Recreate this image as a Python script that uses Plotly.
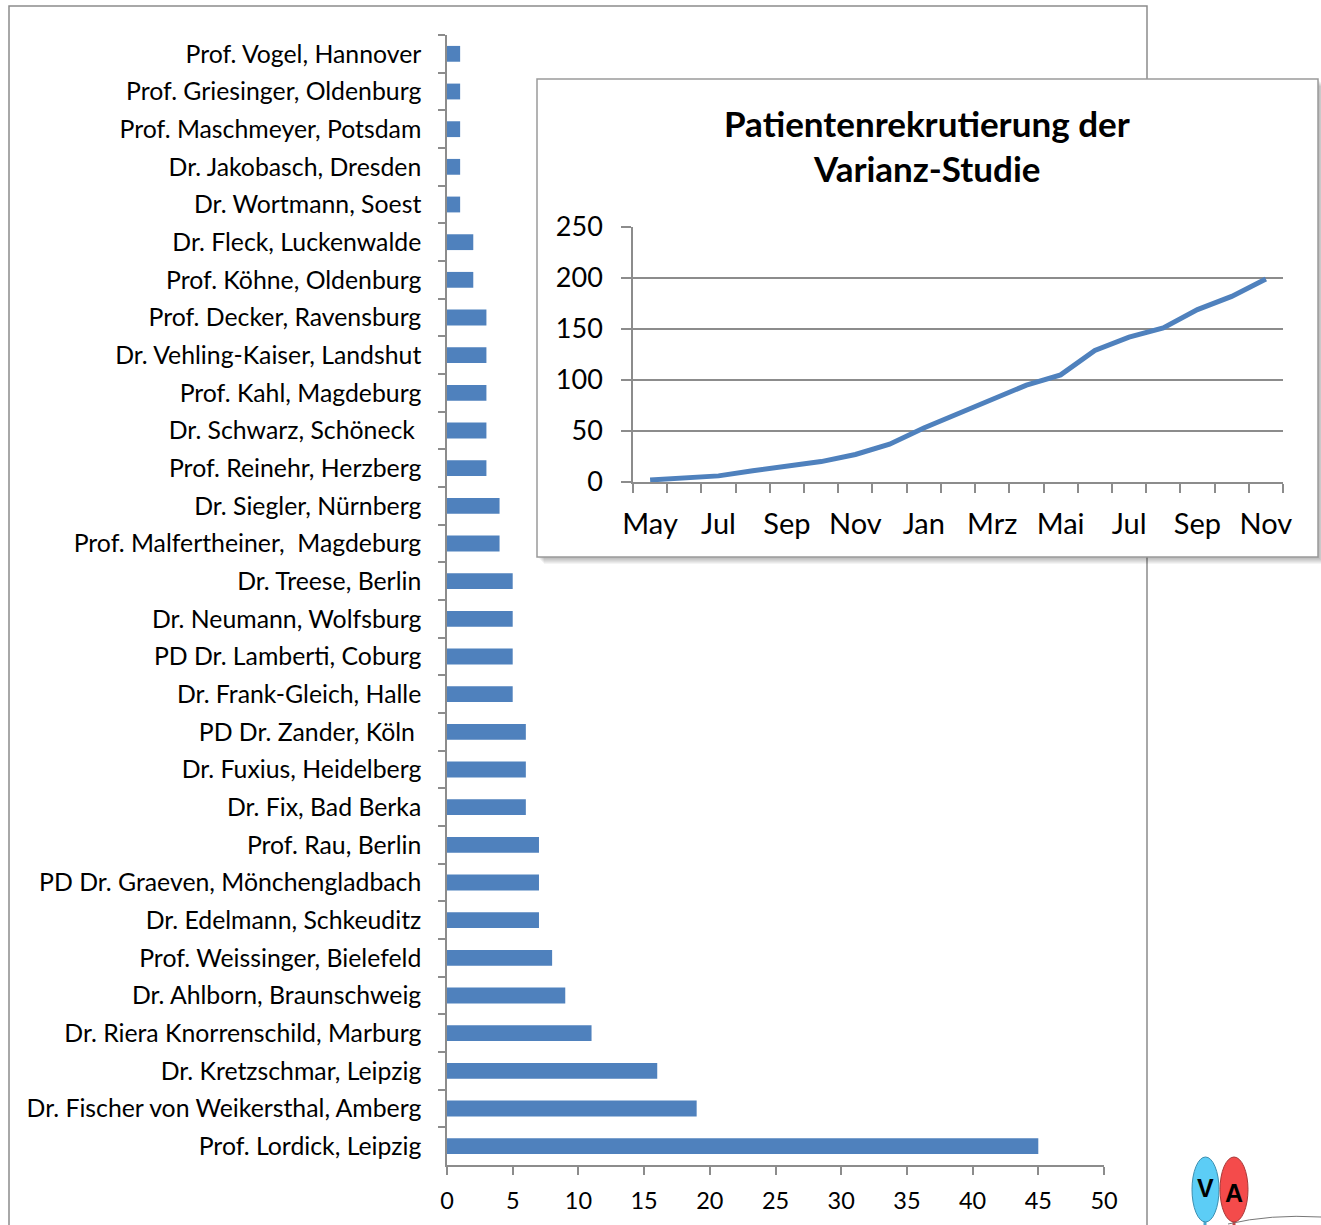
import plotly.graph_objects as go

W, H = 1321, 1225

# ---------------- data ----------------
centers = [
    "Prof. Vogel, Hannover",
    "Prof. Griesinger, Oldenburg",
    "Prof. Maschmeyer, Potsdam",
    "Dr. Jakobasch, Dresden",
    "Dr. Wortmann, Soest",
    "Dr. Fleck, Luckenwalde",
    "Prof. Köhne, Oldenburg",
    "Prof. Decker, Ravensburg",
    "Dr. Vehling-Kaiser, Landshut",
    "Prof. Kahl, Magdeburg",
    "Dr. Schwarz, Schöneck ",
    "Prof. Reinehr, Herzberg",
    "Dr. Siegler, Nürnberg",
    "Prof. Malfertheiner,\u00a0 Magdeburg",
    "Dr. Treese, Berlin",
    "Dr. Neumann, Wolfsburg",
    "PD Dr. Lamberti, Coburg",
    "Dr. Frank-Gleich, Halle",
    "PD Dr. Zander, Köln ",
    "Dr. Fuxius, Heidelberg",
    "Dr. Fix, Bad Berka",
    "Prof. Rau, Berlin",
    "PD Dr. Graeven, Mönchengladbach",
    "Dr. Edelmann, Schkeuditz",
    "Prof. Weissinger, Bielefeld",
    "Dr. Ahlborn, Braunschweig",
    "Dr. Riera Knorrenschild, Marburg",
    "Dr. Kretzschmar, Leipzig",
    "Dr. Fischer von Weikersthal, Amberg",
    "Prof. Lordick, Leipzig",
]
patients = [1, 1, 1, 1, 1, 2, 2, 3, 3, 3, 3, 3, 4, 4, 5, 5, 5, 5, 6, 6,
            6, 7, 7, 7, 8, 9, 11, 16, 19, 45]
bar_ticks = [0, 5, 10, 15, 20, 25, 30, 35, 40, 45, 50]

months = ["May", "Jun", "Jul", "Aug", "Sep", "Okt", "Nov", "Dez", "Jan", "Feb",
          "Mrz", "Apr", "Mai", "Jun", "Jul", "Aug", "Sep", "Okt", "Nov"]
cumulative = [2, 4, 6, 11, 16, 20, 27, 37, 53, 67, 81, 95, 105, 129, 142, 151,
              169, 182, 199]
line_yticks = [0, 50, 100, 150, 200, 250]
inset_title = ["Patientenrekrutierung der", "Varianz-Studie"]

# ---------------- helpers ----------------
def px(x):
    return x / W

def py(y):
    return 1 - y / H

FONT = "Lato"
GRAY = "#8c8c8c"
BLUE = "#4f81bd"

fig = go.Figure()

fig.add_trace(go.Bar(
    x=patients, y=centers, orientation="h",
    marker=dict(color=BLUE, line=dict(width=0)),
    xaxis="x", yaxis="y", showlegend=False,
))

idx = list(range(len(cumulative)))
fig.add_trace(go.Scatter(
    x=idx, y=cumulative, mode="lines",
    line=dict(color=BLUE, width=5),
    xaxis="x2", yaxis="y2", showlegend=False,
))

shapes = []
shapes.append(dict(type="rect", xref="paper", yref="paper",
                   x0=px(9), x1=px(1147), y0=py(1240), y1=py(6),
                   line=dict(color=GRAY, width=1.5), fillcolor="rgba(0,0,0,0)",
                   layer="below"))
for i in range(1, 8):
    shapes.append(dict(type="rect", xref="paper", yref="paper",
                       x0=px(537 + i), x1=px(1318 + i), y0=py(557 + i), y1=py(79 + i),
                       line=dict(width=0), fillcolor="rgba(0,0,0,0.045)",
                       layer="below"))
shapes.append(dict(type="rect", xref="paper", yref="paper",
                   x0=px(537), x1=px(1318), y0=py(557), y1=py(79),
                   line=dict(color="#9a9a9a", width=1.5), fillcolor="white",
                   layer="below"))

shapes.append(dict(type="line", xref="paper", yref="paper",
                   x0=px(1205), x1=px(1205), y0=py(1220), y1=py(1226),
                   line=dict(color="#4aa8d0", width=3)))
shapes.append(dict(type="line", xref="paper", yref="paper",
                   x0=px(1234), x1=px(1234), y0=py(1220), y1=py(1226),
                   line=dict(color="#c84040", width=3)))
shapes.append(dict(type="path", xref="paper", yref="paper",
                   path=f"M {px(1228)} {py(1224)} Q {px(1270)} {py(1214)} {px(1321)} {py(1217)}",
                   line=dict(color="#777777", width=1)))
shapes.append(dict(type="circle", xref="paper", yref="paper",
                   x0=px(1192), x1=px(1219), y0=py(1222), y1=py(1157),
                   fillcolor="#5ccdf6", line=dict(color="#3c8fb0", width=1)))
shapes.append(dict(type="circle", xref="paper", yref="paper",
                   x0=px(1220), x1=px(1248), y0=py(1222), y1=py(1157),
                   fillcolor="#f44b4b", line=dict(color="#a83838", width=1)))

annotations = [
    dict(text=f"<b>{inset_title[0]}</b>", x=px(927), y=py(123), xref="paper", yref="paper",
         showarrow=False, xanchor="center", yanchor="middle",
         font=dict(family=FONT, size=35, color="black")),
    dict(text=f"<b>{inset_title[1]}</b>", x=px(927), y=py(168), xref="paper", yref="paper",
         showarrow=False, xanchor="center", yanchor="middle",
         font=dict(family=FONT, size=35, color="black")),
    dict(text="<b>V</b>", x=px(1205), y=py(1188), xref="paper", yref="paper",
         showarrow=False, xanchor="center", yanchor="middle",
         font=dict(family="Liberation Sans", size=25, color="black")),
    dict(text="<b>A</b>", x=px(1234), y=py(1193), xref="paper", yref="paper",
         showarrow=False, xanchor="center", yanchor="middle",
         font=dict(family="Liberation Sans", size=25, color="black")),
]

fig.update_layout(
    width=W, height=H, autosize=False,
    margin=dict(l=0, r=0, t=0, b=0, pad=0, autoexpand=False),
    paper_bgcolor="white", plot_bgcolor="rgba(0,0,0,0)",
    font=dict(family=FONT, color="black"),
    bargap=0.58,
    shapes=shapes, annotations=annotations,
    xaxis=dict(
        domain=[px(447), px(1104)], anchor="y", automargin=False,
        range=[0, 50], tickvals=bar_ticks, ticktext=[str(v) for v in bar_ticks],
        showgrid=False, zeroline=False, showline=True, linecolor=GRAY, linewidth=1.5,
        ticks="outside", ticklen=8, tickcolor=GRAY, tickwidth=1.5,
        ticklabelstandoff=6,
        tickfont=dict(family=FONT, size=23.5, color="black"),
    ),
    yaxis=dict(
        domain=[py(1165), py(35)], anchor="x", automargin=False,
        type="category", autorange="reversed",
        showgrid=False, zeroline=False, showline=True, linecolor=GRAY, linewidth=1.5,
        ticks="outside", ticklen=7, tickcolor=GRAY, tickwidth=1.5,
        tickson="boundaries", ticklabelstandoff=19,
        tickfont=dict(family=FONT, size=24.8, color="black"),
    ),
    xaxis2=dict(
        domain=[px(633), px(1283)], anchor="y2", automargin=False,
        range=[-0.5, len(cumulative) - 0.5],
        tickvals=idx[::2], ticktext=months[::2],
        showgrid=False, zeroline=False, showline=True, linecolor=GRAY, linewidth=1.5,
        ticks="", ticklabelstandoff=15,
        minor=dict(tickvals=[i - 0.5 for i in range(len(cumulative) + 1)],
                   ticks="outside", ticklen=9, tickcolor=GRAY, tickwidth=1.5,
                   showgrid=False),
        tickfont=dict(family=FONT, size=29, color="black"),
    ),
    yaxis2=dict(
        domain=[py(482), py(227)], anchor="x2", automargin=False,
        range=[0, 250], tickvals=line_yticks,
        showgrid=True, gridcolor=GRAY, gridwidth=1.5,
        zeroline=False, showline=True, linecolor=GRAY, linewidth=1.5,
        ticks="outside", ticklen=10, tickcolor=GRAY, tickwidth=1.5,
        ticklabelstandoff=13,
        tickfont=dict(family=FONT, size=27, color="black"),
    ),
)

fig.write_html("out.html", config={"displayModeBar": False},
               post_script="document.body.style.margin='0';")
